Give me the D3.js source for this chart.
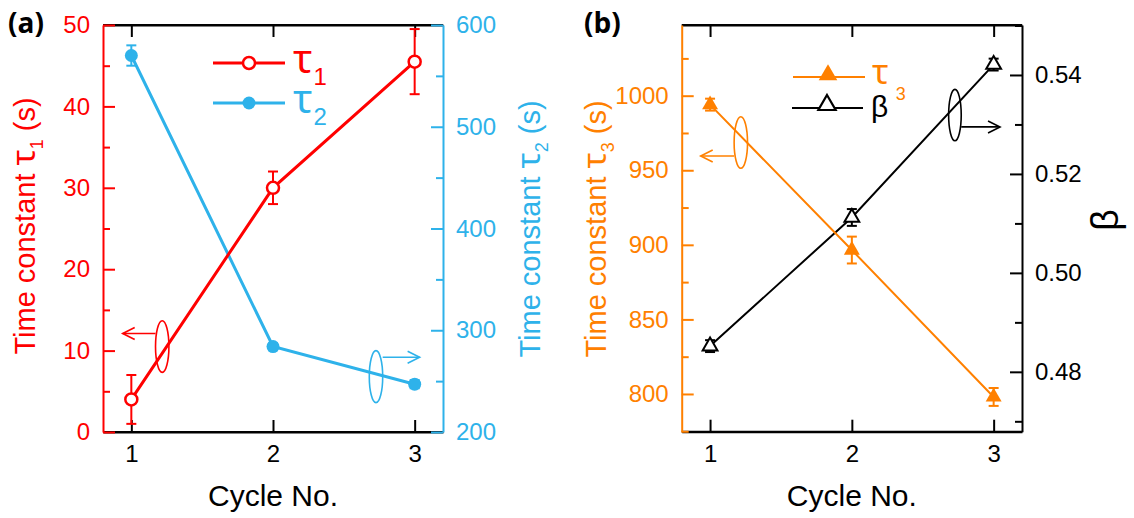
<!DOCTYPE html>
<html><head><meta charset="utf-8">
<script src="https://cdn.jsdelivr.net/npm/d3@7"></script>
<style>body{margin:0;background:#fff} svg{display:block} text{font-family:"Liberation Sans", Arial, sans-serif} .gr{font-family:"Noto Sans", "DejaVu Sans", sans-serif}</style>
</head><body><svg id="c" width="1134" height="518"></svg>
<script>
// ---------- data ----------
const cycles = [1, 2, 3];
const tau1 = [4, 30, 45.5];
const tau1Err = [3, 2, 4];
const tau2 = [570, 284, 247];
const tau2Err = [10, 3, 4];
const tau3 = [994, 896.5, 798];
const tau3Err = [4, 9, 6];
const beta = [0.4852, 0.5112, 0.5421];
const betaErr = [0.0012, 0.0017, 0.0012];
const xTicks = [1, 2, 3];
const tau1Ticks = [0, 10, 20, 30, 40, 50], tau1Minor = [5, 15, 25, 35, 45];
const tau2Ticks = [200, 300, 400, 500, 600], tau2Minor = [250, 350, 450, 550];
const tau3Ticks = [800, 850, 900, 950, 1000], tau3Minor = [775, 825, 875, 925, 975, 1025];
const betaTicks = [0.48, 0.50, 0.52, 0.54], betaMinor = [0.47, 0.49, 0.51, 0.53, 0.55];

const RED = "#ff0000", BLUE = "#2eb2ea", ORANGE = "#ff8000", BLACK = "#000000";
const svg = d3.select("#c");

function yAxis(g, scale, side, x0, ticks, minor, color, fmt) {
  const mk = side === "left" ? d3.axisLeft : d3.axisRight;
  const a = g.append("g").attr("transform", `translate(${x0},0)`);
  a.call(mk(scale).tickValues(minor).tickSize(-7).tickSizeOuter(0).tickFormat(() => ""));
  a.select(".domain").remove();
  const b = g.append("g").attr("transform", `translate(${x0},0)`);
  b.call(mk(scale).tickValues(ticks).tickSize(-12).tickSizeOuter(0).tickPadding(13).tickFormat(fmt));
  [a, b].forEach(s => {
    s.selectAll("line").attr("stroke", color).attr("stroke-width", 2);
    s.selectAll("path").attr("stroke", color).attr("stroke-width", 2);
    s.selectAll("text").attr("fill", color).style("font-size", "24px")
      .style("font-family", '"Liberation Sans", Arial, sans-serif');
  });
}

function xAxes(g, x, yTop, yBot) {
  const b = g.append("g").attr("transform", `translate(0,${yBot})`)
    .call(d3.axisBottom(x).tickValues(xTicks).tickSize(-12).tickSizeOuter(0).tickPadding(13).tickFormat(d3.format("d")));
  const t = g.append("g").attr("transform", `translate(0,${yTop})`)
    .call(d3.axisTop(x).tickValues(xTicks).tickSize(-12).tickSizeOuter(0).tickFormat(() => ""));
  [b, t].forEach(s => {
    s.selectAll("line").attr("stroke", BLACK).attr("stroke-width", 2);
    s.selectAll("path").attr("stroke", BLACK).attr("stroke-width", 2);
    s.selectAll("text").attr("fill", BLACK).style("font-size", "24px")
      .style("font-family", '"Liberation Sans", Arial, sans-serif');
  });
}

function errorBars(g, x, y, vals, errs, color, w) {
  cycles.forEach((c, i) => {
    const cx = x(c), y1 = y(vals[i] + errs[i]), y2 = y(vals[i] - errs[i]);
    g.append("line").attr("x1", cx).attr("x2", cx).attr("y1", y1).attr("y2", y2).attr("stroke", color).attr("stroke-width", w);
    [y1, y2].forEach(yy => g.append("line").attr("x1", cx - 5).attr("x2", cx + 5).attr("y1", yy).attr("y2", yy).attr("stroke", color).attr("stroke-width", w));
  });
}

function seriesLine(g, x, y, vals, color, w) {
  g.append("path").datum(cycles.map((c, i) => [c, vals[i]]))
    .attr("d", d3.line().x(d => x(d[0])).y(d => y(d[1])))
    .attr("fill", "none").attr("stroke", color).attr("stroke-width", w);
}

function annot(g, cx, cy, rx, ry, ay, tipX, color) {
  g.append("ellipse").attr("cx", cx).attr("cy", cy).attr("rx", rx).attr("ry", ry)
    .attr("fill", "none").attr("stroke", color).attr("stroke-width", 1.6);
  const dir = tipX < cx ? -1 : 1;
  const start = cx + dir * rx;
  g.append("line").attr("x1", start).attr("x2", tipX).attr("y1", ay).attr("y2", ay).attr("stroke", color).attr("stroke-width", 1.6);
  g.append("path").attr("d", `M${tipX - dir * 12},${ay - 6}L${tipX},${ay}L${tipX - dir * 12},${ay + 6}`)
    .attr("fill", "none").attr("stroke", color).attr("stroke-width", 1.6);
}

function rotLabel(x, y, parts, color, size) {
  const t = svg.append("text").attr("transform", `translate(${x},${y}) rotate(-90)`)
    .attr("text-anchor", "middle").attr("fill", color).style("font-size", size + "px");
  parts.forEach(p => {
    const s = t.append("tspan").text(p.t);
    if (p.size) s.style("font-size", p.size + "px");
    if (p.cls) s.attr("class", p.cls);
    if (p.dy) s.attr("dy", p.dy);
    if (p.dx) s.attr("dx", p.dx);
  });
}

function tauLegend(g, x, y, color, sub, tauSize, subSize, dx, dy) {
  const t = g.append("text").attr("x", x).attr("y", y).attr("fill", color);
  t.append("tspan").attr("class", "gr").style("font-size", tauSize + "px").text("τ");
  t.append("tspan").style("font-size", subSize + "px").attr("dx", dx).attr("dy", dy).text(sub);
}

// ---------- panel (a) ----------
{
  const L = 103, R = 443, T = 25, B = 432;
  const x = d3.scaleLinear().domain([0.8, 3.2]).range([L, R]);
  const y1 = d3.scaleLinear().domain([0, 50]).range([B, T]);
  const y2 = d3.scaleLinear().domain([200, 600]).range([B, T]);
  const g = svg.append("g");
  g.append("line").attr("x1", L).attr("x2", R).attr("y1", T).attr("y2", T).attr("stroke", BLACK).attr("stroke-width", 2);
  g.append("line").attr("x1", L).attr("x2", R).attr("y1", B).attr("y2", B).attr("stroke", BLACK).attr("stroke-width", 2);
  xAxes(g, x, T, B);
  yAxis(g, y1, "left", L, tau1Ticks, tau1Minor, RED, d3.format("d"));
  yAxis(g, y2, "right", R, tau2Ticks, tau2Minor, BLUE, d3.format("d"));

  seriesLine(g, x, y2, tau2, BLUE, 3);
  errorBars(g, x, y2, tau2, tau2Err, BLUE, 2);
  g.selectAll(".m2").data(cycles).enter().append("circle")
    .attr("cx", d => x(d)).attr("cy", (d, i) => y2(tau2[i])).attr("r", 6.5).attr("fill", BLUE);

  seriesLine(g, x, y1, tau1, RED, 3);
  errorBars(g, x, y1, tau1, tau1Err, RED, 2);
  g.selectAll(".m1").data(cycles).enter().append("circle")
    .attr("cx", d => x(d)).attr("cy", (d, i) => y1(tau1[i])).attr("r", 6).attr("fill", "#fff")
    .attr("stroke", RED).attr("stroke-width", 2.5);

  annot(g, x(1.218), y1(10.5), 6.7, 25.8, y1(12.1), x(0.939), RED);
  annot(g, x(2.727), y2(254.4), 6.7, 26, y2(273.4), x(3.035), BLUE);

  // legend
  const lg = [{c: RED, sub: "1", y: 63, open: true}, {c: BLUE, sub: "2", y: 103, open: false}];
  lg.forEach(d => {
    g.append("line").attr("x1", 213).attr("x2", 285).attr("y1", d.y).attr("y2", d.y).attr("stroke", d.c).attr("stroke-width", 3);
    g.append("circle").attr("cx", 249).attr("cy", d.y).attr("r", d.open ? 6 : 6.5)
      .attr("fill", d.open ? "#fff" : d.c).attr("stroke", d.open ? d.c : "none").attr("stroke-width", 2.5);
    tauLegend(g, 293, d.y + 10, d.c, d.sub, 40, 24, 1, 12);
  });

  svg.append("text").attr("x", 8).attr("y", 33).style("font-family", '"Open Sans", sans-serif')
    .style("font-weight", 700).style("font-size", "28px").attr("fill", BLACK).text("(a)");
  rotLabel(35, 226, [{t: "Time constant "}, {t: "τ", size: 33, cls: "gr"}, {t: "1", size: 18, dy: 8}, {t: " (s)", dy: -8}], RED, 29);
  rotLabel(540, 229, [{t: "Time constant "}, {t: "τ", size: 33, cls: "gr"}, {t: "2", size: 18, dy: 8}, {t: " (s)", dy: -8}], BLUE, 29);
  svg.append("text").attr("x", (L + R) / 2).attr("y", 506).attr("text-anchor", "middle")
    .style("font-size", "30px").attr("fill", BLACK).text("Cycle No.");
}

// ---------- panel (b) ----------
{
  const L = 681.7, R = 1022, T = 25, B = 431.7;
  const x = d3.scaleLinear().domain([0.8, 3.2]).range([L, R]);
  const y3 = d3.scaleLinear().domain([774.7, 1047.4]).range([B, T]);
  const yb = d3.scaleLinear().domain([0.4679, 0.5501]).range([B, T]);
  const g = svg.append("g");
  g.append("line").attr("x1", L).attr("x2", R).attr("y1", T).attr("y2", T).attr("stroke", BLACK).attr("stroke-width", 2);
  g.append("line").attr("x1", L).attr("x2", R).attr("y1", B).attr("y2", B).attr("stroke", BLACK).attr("stroke-width", 2);
  xAxes(g, x, T, B);
  yAxis(g, yb, "right", R, betaTicks, betaMinor, BLACK, d3.format(".2f"));
  yAxis(g, y3, "left", L, tau3Ticks, tau3Minor, ORANGE, d3.format("d"));

  const tri = d3.symbol().type(d3.symbolTriangle);
  seriesLine(g, x, yb, beta, BLACK, 2);
  errorBars(g, x, yb, beta, betaErr, BLACK, 2);
  g.selectAll(".mb").data(cycles).enter().append("path")
    .attr("transform", (d, i) => `translate(${x(d)},${yb(beta[i])})`)
    .attr("d", tri.size(95)).attr("fill", "#fff").attr("stroke", BLACK).attr("stroke-width", 2);

  seriesLine(g, x, y3, tau3, ORANGE, 2);
  errorBars(g, x, y3, tau3, tau3Err, ORANGE, 2);
  g.selectAll(".m3").data(cycles).enter().append("path")
    .attr("transform", (d, i) => `translate(${x(d)},${y3(tau3[i])})`)
    .attr("d", tri.size(110)).attr("fill", ORANGE);

  annot(g, x(1.217), y3(968.6), 6.7, 25.8, y3(959.6), x(0.934), ORANGE);
  annot(g, x(2.727), yb(0.5319), 6.3, 25.7, yb(0.5295), x(3.045), BLACK);

  // legend
  g.append("line").attr("x1", 793).attr("x2", 865).attr("y1", 77).attr("y2", 77).attr("stroke", ORANGE).attr("stroke-width", 2);
  g.append("path").attr("transform", "translate(828,75)").attr("d", d3.symbol().type(d3.symbolTriangle).size(150)()).attr("fill", ORANGE);
  tauLegend(g, 872, 84, ORANGE, "3", 34, 18, 7, 16);
  g.append("line").attr("x1", 792).attr("x2", 863).attr("y1", 108).attr("y2", 108).attr("stroke", BLACK).attr("stroke-width", 2);
  g.append("path").attr("transform", "translate(827,105)").attr("d", d3.symbol().type(d3.symbolTriangle).size(130)())
    .attr("fill", "#fff").attr("stroke", BLACK).attr("stroke-width", 2.2);
  g.append("text").attr("x", 871).attr("y", 117).attr("fill", BLACK).style("font-size", "30px").text("β");

  svg.append("text").attr("x", 584).attr("y", 33).style("font-family", '"Open Sans", sans-serif')
    .style("font-weight", 700).style("font-size", "28px").attr("fill", BLACK).text("(b)");
  rotLabel(606, 229, [{t: "Time constant "}, {t: "τ", size: 33, cls: "gr"}, {t: "3", size: 18, dy: 8}, {t: " (s)", dy: -8}], ORANGE, 29);
  rotLabel(1118, 220, [{t: "β"}], BLACK, 38);
  svg.append("text").attr("x", (L + R) / 2).attr("y", 506).attr("text-anchor", "middle")
    .style("font-size", "30px").attr("fill", BLACK).text("Cycle No.");
}
</script></body></html>
